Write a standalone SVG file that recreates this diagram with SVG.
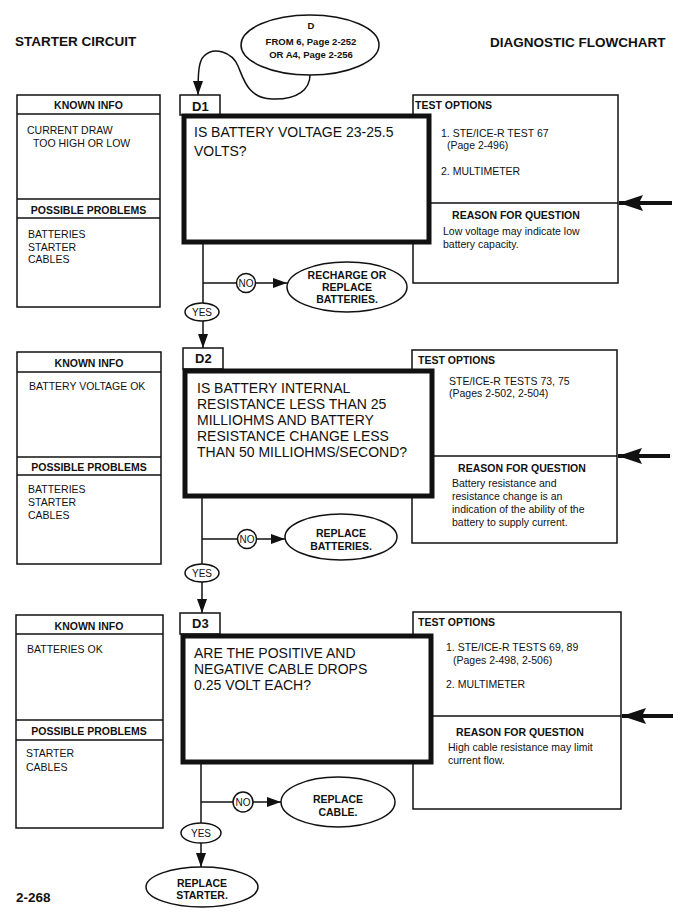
<svg xmlns="http://www.w3.org/2000/svg" width="684" height="921" viewBox="0 0 684 921">
<defs>
<style>
text{font-family:"Liberation Sans",Arial,sans-serif;fill:#111}
.title{font-size:13.5px;font-weight:bold}
.hdr{font-size:10.5px;font-weight:bold}
.sm{font-size:10.5px}
.ki{font-size:10.5px}
.q{font-size:14px}
.tab{font-size:13px;font-weight:bold}
.eb{font-size:10.5px;font-weight:bold;text-anchor:middle}
.lbl{font-size:10px;text-anchor:middle}
.c{text-anchor:middle}
.box{fill:#fff;stroke:#111;stroke-width:1.5}
.thick{fill:#fff;stroke:#111;stroke-width:5}
.ln{fill:none;stroke:#111;stroke-width:1.5}
.big{fill:none;stroke:#111;stroke-width:4}
</style>
<marker id="ah" viewBox="0 0 14 10" refX="14" refY="5" markerWidth="14" markerHeight="10" markerUnits="userSpaceOnUse" orient="auto">
<path d="M0,0 L14,5 L0,10 Z" fill="#111"/>
</marker>
<marker id="bah" viewBox="0 0 24 16" refX="24" refY="8" markerWidth="24" markerHeight="16" markerUnits="userSpaceOnUse" orient="auto">
<path d="M0,0 L24,8 L0,16 L4,8 Z" fill="#111"/>
</marker>
</defs>
<rect width="684" height="921" fill="#fff"/>

<text class="title" x="15" y="46">STARTER CIRCUIT</text>
<text class="title" x="490" y="47">DIAGNOSTIC FLOWCHART</text>
<text class="title" x="16" y="902">2-268</text>

<g id="start">
<ellipse class="box" cx="310" cy="45" rx="69" ry="30"/>
<text class="c" style="font-size:9.5px;font-weight:bold" x="311" y="29">D</text>
<text class="c" style="font-size:9.5px;font-weight:bold" x="311" y="45">FROM 6, Page 2-252</text>
<text class="c" style="font-size:9.5px;font-weight:bold" x="311" y="57.5">OR A4, Page 2-256</text>
</g>

<!-- D1 -->
<g id="d1-known">
<rect class="box" x="17" y="95" width="143" height="212"/>
<line class="ln" x1="17" y1="114" x2="160" y2="114"/>
<line class="ln" x1="17" y1="199" x2="160" y2="199"/>
<line class="ln" x1="17" y1="218" x2="160" y2="218"/>
<text class="hdr c" x="88.5" y="108.5">KNOWN INFO</text>
<text class="ki" x="27" y="133.5">CURRENT DRAW</text>
<text class="ki" x="33" y="146.5">TOO HIGH OR LOW</text>
<text class="hdr c" x="88.5" y="213.5">POSSIBLE PROBLEMS</text>
<text class="ki" x="28" y="237.5">BATTERIES</text>
<text class="ki" x="28" y="250.5">STARTER</text>
<text class="ki" x="28" y="262.5">CABLES</text>
</g>
<g id="d1-test">
<rect class="box" x="413" y="95" width="205" height="188"/>
<line class="ln" x1="413" y1="203" x2="618" y2="203"/>
<text class="hdr" x="415" y="109">TEST OPTIONS</text>
<text class="sm" x="441" y="137">1. STE/ICE-R TEST 67</text>
<text class="sm" x="447" y="149">(Page 2-496)</text>
<text class="sm" x="441" y="175">2. MULTIMETER</text>
<text class="hdr c" x="516" y="219">REASON FOR QUESTION</text>
<text class="sm" x="443" y="235">Low voltage may indicate low</text>
<text class="sm" x="443" y="248">battery capacity.</text>
</g>
<g id="d1">
<rect class="box" x="180" y="95" width="40" height="20"/>
<text class="tab" x="192" y="110.5">D1</text>
<rect class="thick" x="184" y="116" width="245" height="126"/>
<text class="q" x="194" y="137">IS BATTERY VOLTAGE 23-25.5</text>
<text class="q" x="194" y="156">VOLTS?</text>
</g>
<g id="d1-no-end">
<ellipse class="box" cx="347" cy="287" rx="60" ry="25"/>
<text class="eb" x="347" y="279">RECHARGE OR</text>
<text class="eb" x="347" y="291">REPLACE</text>
<text class="eb" x="347" y="303">BATTERIES.</text>
</g>

<!-- D2 -->
<g id="d2-known">
<rect class="box" x="17" y="352" width="144" height="212"/>
<line class="ln" x1="17" y1="372" x2="161" y2="372"/>
<line class="ln" x1="17" y1="457" x2="161" y2="457"/>
<line class="ln" x1="17" y1="475" x2="161" y2="475"/>
<text class="hdr c" x="89" y="366.5">KNOWN INFO</text>
<text class="ki" x="29" y="389.5">BATTERY VOLTAGE OK</text>
<text class="hdr c" x="89" y="470.5">POSSIBLE PROBLEMS</text>
<text class="ki" x="28" y="492.5">BATTERIES</text>
<text class="ki" x="28" y="506">STARTER</text>
<text class="ki" x="28" y="518.5">CABLES</text>
</g>
<g id="d2-test">
<rect class="box" x="412" y="350" width="205" height="193"/>
<line class="ln" x1="412" y1="456" x2="617" y2="456"/>
<text class="hdr" x="418" y="364">TEST OPTIONS</text>
<text class="sm" x="449" y="385">STE/ICE-R TESTS 73, 75</text>
<text class="sm" x="449" y="397">(Pages 2-502, 2-504)</text>
<text class="hdr c" x="522" y="472">REASON FOR QUESTION</text>
<text class="sm" x="452" y="487">Battery resistance and</text>
<text class="sm" x="452" y="500">resistance change is an</text>
<text class="sm" x="452" y="513">indication of the ability of the</text>
<text class="sm" x="452" y="526">battery to supply current.</text>
</g>
<g id="d2">
<rect class="box" x="183" y="348" width="40" height="21"/>
<text class="tab" x="195" y="363">D2</text>
<rect class="thick" x="185" y="371" width="247" height="125"/>
<text class="q" x="197" y="393">IS BATTERY INTERNAL</text>
<text class="q" x="197" y="409">RESISTANCE LESS THAN 25</text>
<text class="q" x="197" y="425">MILLIOHMS AND BATTERY</text>
<text class="q" x="197" y="441">RESISTANCE CHANGE LESS</text>
<text class="q" x="197" y="457">THAN 50 MILLIOHMS/SECOND?</text>
</g>
<g id="d2-no-end">
<ellipse class="box" cx="341" cy="537" rx="56" ry="23"/>
<text class="eb" x="341" y="537">REPLACE</text>
<text class="eb" x="341" y="550">BATTERIES.</text>
</g>

<!-- D3 -->
<g id="d3-known">
<rect class="box" x="16" y="615" width="147" height="213"/>
<line class="ln" x1="16" y1="634" x2="163" y2="634"/>
<line class="ln" x1="16" y1="720" x2="163" y2="720"/>
<line class="ln" x1="16" y1="740" x2="163" y2="740"/>
<text class="hdr c" x="89" y="630">KNOWN INFO</text>
<text class="ki" x="27" y="652.5">BATTERIES OK</text>
<text class="hdr c" x="89" y="735">POSSIBLE PROBLEMS</text>
<text class="ki" x="26" y="756.5">STARTER</text>
<text class="ki" x="26" y="770.5">CABLES</text>
</g>
<g id="d3-test">
<rect class="box" x="413" y="612" width="208" height="197"/>
<line class="ln" x1="413" y1="716" x2="621" y2="716"/>
<text class="hdr" x="418" y="626">TEST OPTIONS</text>
<text class="sm" x="446" y="651">1. STE/ICE-R TESTS 69, 89</text>
<text class="sm" x="453" y="664">(Pages 2-498, 2-506)</text>
<text class="sm" x="446" y="688">2. MULTIMETER</text>
<text class="hdr c" x="520" y="736">REASON FOR QUESTION</text>
<text class="sm" x="448" y="751">High cable resistance may limit</text>
<text class="sm" x="448" y="764">current flow.</text>
</g>
<g id="d3">
<rect class="box" x="180" y="613" width="40" height="21"/>
<text class="tab" x="192" y="627.5">D3</text>
<rect class="thick" x="183" y="636" width="248" height="126"/>
<text class="q" x="194" y="658">ARE THE POSITIVE AND</text>
<text class="q" x="194" y="674">NEGATIVE CABLE DROPS</text>
<text class="q" x="194" y="690">0.25 VOLT EACH?</text>
</g>
<g id="d3-no-end">
<ellipse class="box" cx="338" cy="802" rx="57" ry="25"/>
<text class="eb" x="338" y="803">REPLACE</text>
<text class="eb" x="338" y="816">CABLE.</text>
</g>
<g id="end">
<ellipse class="box" cx="202" cy="887" rx="56" ry="20"/>
<text class="eb" x="202" y="887">REPLACE</text>
<text class="eb" x="202" y="899">STARTER.</text>
</g>

<g id="connectors">
<path class="ln" d="M310,75 C310,89 298,100 272,99 C248,98 244,80 238,66 C232,52 214,46 204,56 C199,61 198,70 198,95" marker-end="url(#ah)"/>
<!-- D1 -->
<line class="ln" x1="203" y1="244" x2="203" y2="303"/>
<line class="ln" x1="203" y1="283" x2="237" y2="283"/>
<line class="ln" x1="255" y1="283" x2="287" y2="283" marker-end="url(#ah)"/>
<line class="ln" x1="203" y1="321" x2="203" y2="348" marker-end="url(#ah)"/>
<line class="big" x1="672" y1="203" x2="619" y2="203" marker-end="url(#bah)"/>
<!-- D2 -->
<line class="ln" x1="202" y1="498" x2="202" y2="564"/>
<line class="ln" x1="202" y1="539" x2="238" y2="539"/>
<line class="ln" x1="256" y1="539" x2="285" y2="539" marker-end="url(#ah)"/>
<line class="ln" x1="202" y1="582" x2="202" y2="613" marker-end="url(#ah)"/>
<line class="big" x1="670" y1="456" x2="618" y2="456" marker-end="url(#bah)"/>
<!-- D3 -->
<line class="ln" x1="201" y1="764" x2="201" y2="823"/>
<line class="ln" x1="201" y1="802" x2="233" y2="802"/>
<line class="ln" x1="253" y1="802" x2="281" y2="802" marker-end="url(#ah)"/>
<line class="ln" x1="201" y1="843" x2="201" y2="867" marker-end="url(#ah)"/>
<line class="big" x1="673" y1="716" x2="622" y2="716" marker-end="url(#bah)"/>
</g>

<g id="labels">
<g id="d1-no"><circle class="box" cx="246" cy="283" r="9.5"/><text class="lbl" x="246" y="286.5">NO</text></g>
<g id="d1-yes"><ellipse class="box" cx="202" cy="312" rx="17" ry="9"/><text class="lbl" x="202" y="315.5">YES</text></g>
<g id="d2-no"><circle class="box" cx="247" cy="539" r="9.5"/><text class="lbl" x="247" y="542.5">NO</text></g>
<g id="d2-yes"><ellipse class="box" cx="202" cy="573" rx="17" ry="9"/><text class="lbl" x="202" y="576.5">YES</text></g>
<g id="d3-no"><circle class="box" cx="243" cy="802" r="10"/><text class="lbl" x="243" y="805.5">NO</text></g>
<g id="d3-yes"><ellipse class="box" cx="201" cy="833" rx="20" ry="10"/><text class="lbl" x="201" y="836.5">YES</text></g>
</g>
</svg>
